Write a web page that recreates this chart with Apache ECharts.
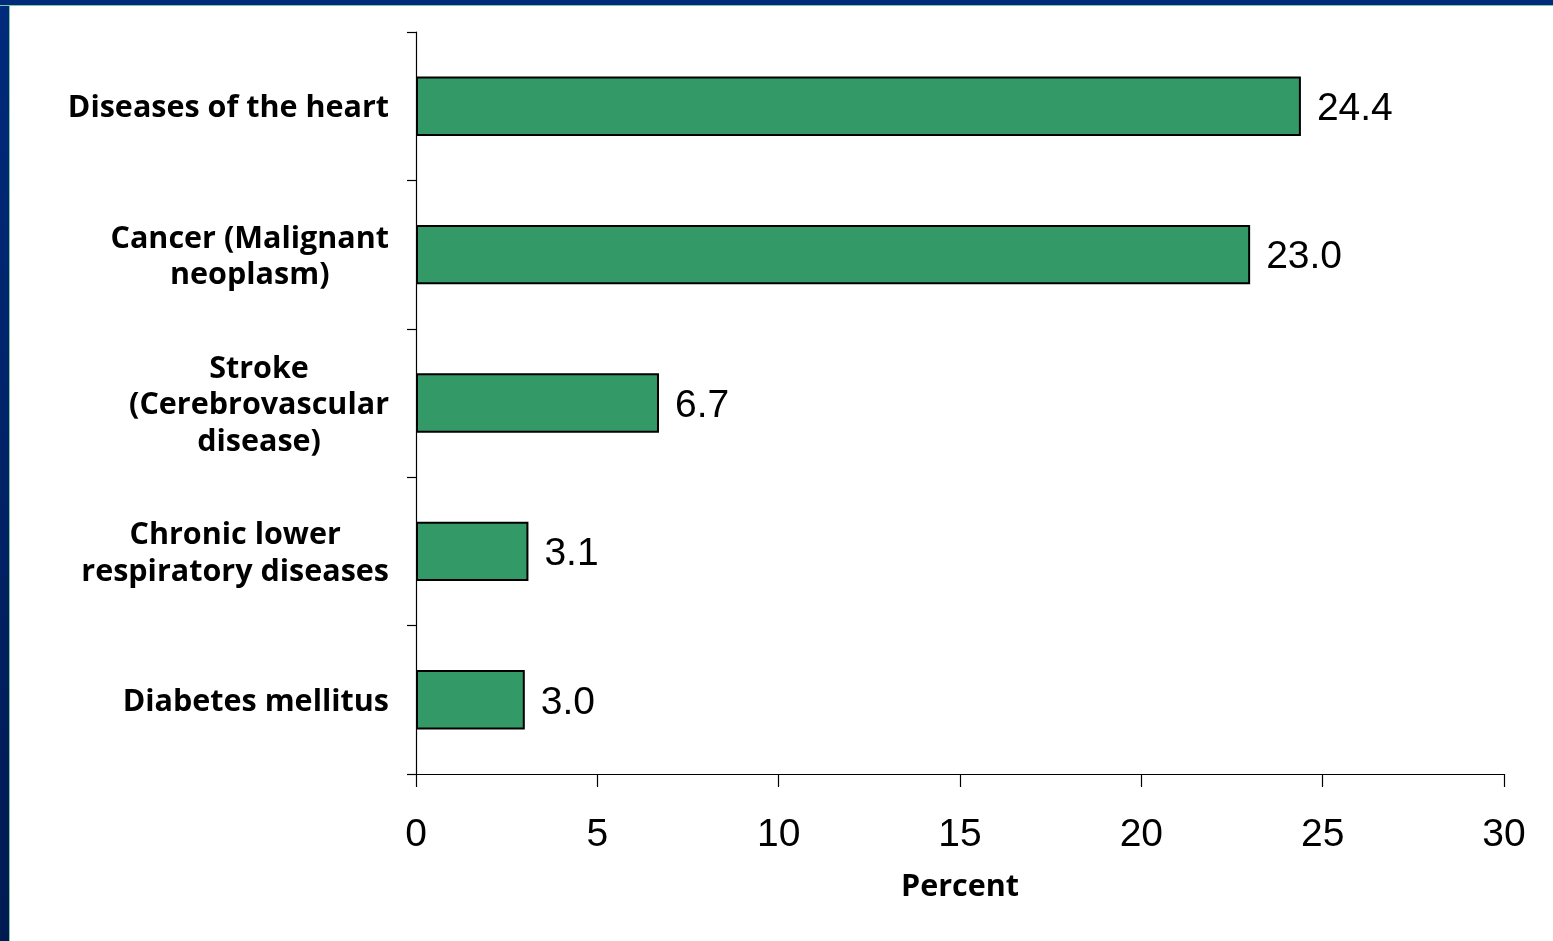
<!DOCTYPE html>
<html>
<head>
<meta charset="utf-8">
<script src="https://cdn.jsdelivr.net/npm/echarts@6/dist/echarts.min.js"></script>
<style>
  html, body { margin: 0; padding: 0; width: 1553px; height: 941px; background: #ffffff; overflow: hidden; }
  #leftBar { position: absolute; left: 0; top: 0; width: 9px; height: 941px; background: linear-gradient(#002a7c, #001a52); border-right: 1px solid #7fc8a0; }
  #topBar { position: absolute; left: 0; top: 0; width: 1553px; height: 5px; background: #002a7c; border-bottom: 1px solid #7fc8a0; }
  #chart { position: absolute; left: 0; top: 0; width: 1553px; height: 941px; }
</style>
</head>
<body>
<div id="leftBar"></div>
<div id="topBar"></div>
<div id="chart"></div>
<script>
const categories = [
  "Diseases of the heart",
  "Cancer (Malignant\nneoplasm)",
  "Stroke\n(Cerebrovascular\ndisease)",
  "Chronic lower\nrespiratory diseases",
  "Diabetes mellitus"
];
const percentValues = [24.4, 23.0, 6.7, 3.1, 3.0];
const xTicks = { min: 0, max: 30, interval: 5 };
const xAxisName = "Percent";

const labelFont = 'Open Sans';
const chart = echarts.init(document.getElementById('chart'), null, { renderer: 'canvas' });
chart.setOption({
  backgroundColor: 'transparent',
  animation: false,
  grid: { left: 416, right: 49, top: 32, bottom: 167, containLabel: false },
  xAxis: {
    type: 'value',
    min: xTicks.min, max: xTicks.max, interval: xTicks.interval,
    name: xAxisName,
    nameLocation: 'middle',
    nameGap: 98,
    nameTextStyle: { fontFamily: labelFont, fontWeight: 'bold', fontSize: 30.5, color: '#000' },
    axisLine: { show: true, lineStyle: { color: '#000', width: 1.2 } },
    axisTick: { show: true, inside: false, length: 13, lineStyle: { color: '#000', width: 1.2 } },
    axisLabel: { fontFamily: 'Liberation Sans, Arial, sans-serif', fontSize: 39, color: '#000', margin: 42 },
    splitLine: { show: false }
  },
  yAxis: {
    type: 'category',
    data: categories,
    inverse: true,
    axisLine: { show: true, lineStyle: { color: '#000', width: 1.2 } },
    axisTick: { show: true, inside: false, length: 9, lineStyle: { color: '#000', width: 1.2 } },
    axisLabel: {
      margin: 27,
      align: 'right',
      padding: [5, 0, 0, 0],
      formatter: function (v) {
        return v.split('\n').map(function (l) { return '{c|' + l + '}'; }).join('\n');
      },
      rich: {
        c: { align: 'center', fontFamily: labelFont, fontWeight: 'bold', fontSize: 30.5, color: '#000', lineHeight: 36.5 }
      }
    },
    splitLine: { show: false }
  },
  series: [{
    type: 'bar',
    data: percentValues,
    barWidth: '40%',
    itemStyle: { color: '#339966', borderColor: '#000', borderWidth: 2 },
    label: {
      show: true,
      position: 'right',
      distance: 16,
      offset: [0, 3],
      formatter: function (p) { return p.value.toFixed(1); },
      fontFamily: 'Liberation Sans, Arial, sans-serif',
      fontSize: 39,
      color: '#000'
    }
  }]
});
</script>
</body>
</html>
